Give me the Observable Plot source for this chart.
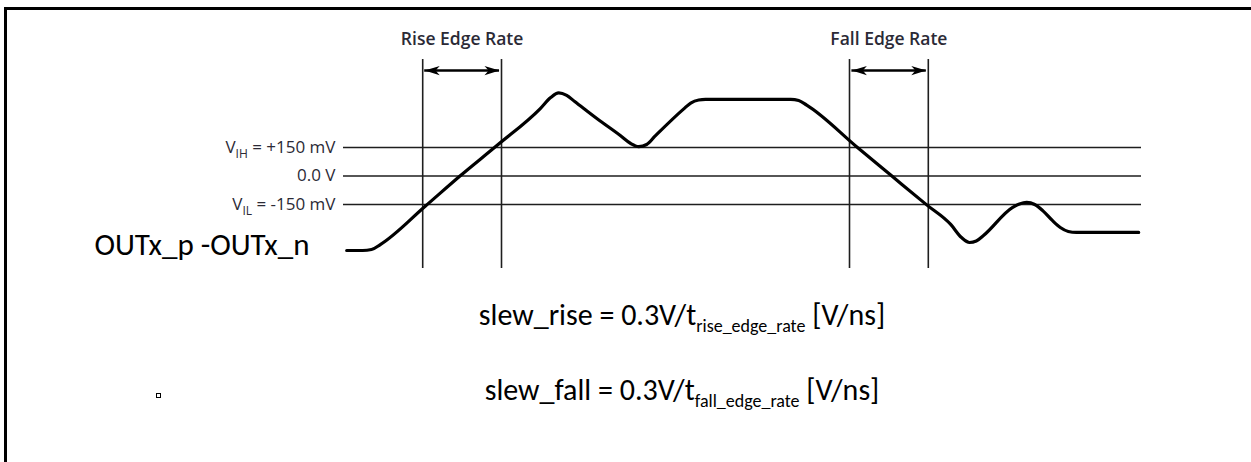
<!DOCTYPE html>
<html>
<head>
<meta charset="utf-8">
<script src="https://cdn.jsdelivr.net/npm/d3@7"></script>
<script src="https://cdn.jsdelivr.net/npm/@observablehq/plot@0.6"></script>
<style>
  html, body { margin: 0; padding: 0; background: #fff; }
  #wrap { position: relative; width: 1251px; height: 462px; overflow: hidden; background: #fff; }
  #chart { position: absolute; left: 0; top: 0; }
  #frameLeft { position: absolute; left: 4px; top: 7px; width: 3px; height: 460px; background: #000; }
  #frameTop { position: absolute; left: 4px; top: 7px; width: 1260px; height: 3px; background: #000; }
  .formula { position: absolute; left: 0; width: 1364px; text-align: center; white-space: nowrap;
             font-family: Carlito, Lato, sans-serif; font-size: 30px; line-height: 36px; color: #000; }
  .formula sub { font-size: 18px; vertical-align: -7px; line-height: 0; }
  #bullet { position: absolute; left: 156px; top: 393px; width: 3px; height: 3px; border: 1px solid #000; }
</style>
</head>
<body>
<div id="wrap">
  <div id="chart"></div>
  <div class="formula" id="f0" style="top:297px"></div>
  <div class="formula" id="f1" style="top:372px"></div>
  <div id="bullet"></div>
  <div id="frameLeft"></div>
  <div id="frameTop"></div>
</div>
<script>
// ---------- data ----------
// threshold levels (mV) and their labels ({...} = subscript)
const levelMv = [150, 0, -150];
const levelLabels = ["V{IH} = +150 mV", "0.0 V", "V{IL} = -150 mV"];

// edge-rate windows (time units)
const edgeLabels = ["Rise Edge Rate", "Fall Edge Rate"];
const edgeStart = [9.9, 63.25];
const edgeEnd = [19.75, 73.1];
const arrowStart = [10.15, 63.55];
const arrowEnd = [19.5, 72.85];

// differential waveform OUTx_p - OUTx_n
const waveT  = [0.4, 2.4, 3.5, 4.6, 10.25, 14.56, 19.25, 24.6, 25.9, 26.9, 27.9, 28.9, 31.75, 34.6, 35.9, 36.9, 37.9, 38.9, 42.5, 43.4, 44.4, 45.25, 55.9, 56.9, 57.9, 64.25, 68.4, 72.9, 75.9, 77.25, 78.25, 79.1, 80.0, 83.6, 84.5, 85.4, 86.4, 87.4, 88.6, 89.6, 90.6, 91.6, 99.4];
const waveMv = [-392, -392, -387, -361, -158, 0, 163, 355, 413, 437, 424, 392, 300, 213, 171, 155, 166, 208, 352, 384, 400, 403, 403, 397, 373, 150, 5, -152, -255, -324, -350, -342, -313, -166, -147, -139, -150, -182, -234, -271, -292, -297, -297];

const signalLabel = "OUTx_p -OUTx_n";
const formulaLead = ["slew_rise = 0.3V/t", "slew_fall = 0.3V/t"];
const formulaSub = ["rise_edge_rate", "fall_edge_rate"];
const formulaTail = [" [V/ns]", " [V/ns]"];

// ---------- layout constants (not data) ----------
const lineFrom = 0, lineTo = 99.75;
const markerTop = 613, markerBottom = -487, arrowLevel = 555, edgeLabelLevel = 718;
const levelLabelT = -1;
const signalLabelT = -4.25, signalLabelMv = -362;

const edges = edgeLabels.map((label, i) => ({
  label, t1: edgeStart[i], t2: edgeEnd[i], a1: arrowStart[i], a2: arrowEnd[i],
  mid: (edgeStart[i] + edgeEnd[i]) / 2
}));
const levels = levelMv.map((v, i) => ({v, label: levelLabels[i]}));
const wave = waveT.map((t, i) => ({t, v: waveMv[i]}));
const verticals = edges.flatMap(e => [e.t1, e.t2]);
const heads = edges.flatMap(e => [{t: e.a1, rot: 180}, {t: e.a2, rot: 0}]);

// filled barbed arrowhead, tip at the origin, pointing right
const barb = {
  draw(ctx, size) {
    const r = Math.sqrt(size / Math.PI);
    ctx.moveTo(0, 0);
    ctx.lineTo(-2 * r, -0.62 * r);
    ctx.lineTo(-1.45 * r, 0);
    ctx.lineTo(-2 * r, 0.62 * r);
    ctx.closePath();
  }
};

const ink = "#1e1e1e";
const labelInk = "#2b2a36";

const plot = Plot.plot({
  width: 1251,
  height: 290,
  margin: 0,
  style: {background: "transparent"},
  x: {domain: [0, 100], range: [343, 1143], axis: null},
  y: {domain: [-150, 150], range: [204, 147], axis: null},
  marks: [
    Plot.ruleY(levels, {y: "v", x1: lineFrom, x2: lineTo, stroke: ink, strokeWidth: 1.6}),
    Plot.ruleX(verticals, {x: d => d, y1: markerBottom, y2: markerTop, stroke: ink, strokeWidth: 1.6}),
    Plot.ruleY(edges, {y: arrowLevel, x1: "a1", x2: "a2", stroke: "#000", strokeWidth: 2.4}),
    Plot.dot(heads, {x: "t", y: arrowLevel, symbol: barb, r: 7.5, rotate: "rot", fill: "#000", stroke: "none"}),
    Plot.line(wave, {x: "t", y: "v", curve: "monotone-x", stroke: "#000", strokeWidth: 3.2, strokeLinejoin: "round"}),
    Plot.text(levels, {x: levelLabelT, y: "v", text: "label", textAnchor: "end",
      fontFamily: "'Open Sans', sans-serif", fontSize: 17, fill: labelInk}),
    Plot.text(edges, {x: "mid", y: edgeLabelLevel, text: "label",
      fontFamily: "'Open Sans', sans-serif", fontWeight: 600, fontSize: 17.5, fill: labelInk}),
    Plot.text([signalLabel], {x: signalLabelT, y: signalLabelMv, text: d => d, textAnchor: "end",
      fontFamily: "Carlito, Lato, sans-serif", fontSize: 31, fill: "#000"})
  ]
});

// tighten the level labels a little
plot.querySelectorAll("text").forEach(el => {
  if (el.getAttribute("font-size") === "17") el.setAttribute("letter-spacing", "-0.4");
});

// turn "{...}" into subscripts
const NS = "http://www.w3.org/2000/svg";
plot.querySelectorAll("text, tspan").forEach(el => {
  if (el.childNodes.length !== 1 || el.firstChild.nodeType !== 3) return;
  const s = el.textContent;
  if (!s.includes("{")) return;
  el.textContent = "";
  const parts = s.split(/(\{[^}]*\})/).filter(p => p.length);
  let shifted = false;
  for (const p of parts) {
    const ts = document.createElementNS(NS, "tspan");
    if (p.startsWith("{")) {
      ts.textContent = p.slice(1, -1);
      ts.setAttribute("font-size", "12");
      ts.setAttribute("dy", "5");
      shifted = true;
    } else {
      ts.textContent = p;
      if (shifted) { ts.setAttribute("dy", "-5"); shifted = false; }
    }
    el.appendChild(ts);
  }
});

document.getElementById("chart").appendChild(plot);

formulaLead.forEach((lead, i) => {
  const div = document.getElementById("f" + i);
  div.appendChild(document.createTextNode(lead));
  const sub = document.createElement("sub");
  sub.textContent = formulaSub[i];
  div.appendChild(sub);
  div.appendChild(document.createTextNode(formulaTail[i]));
});
</script>
</body>
</html>
